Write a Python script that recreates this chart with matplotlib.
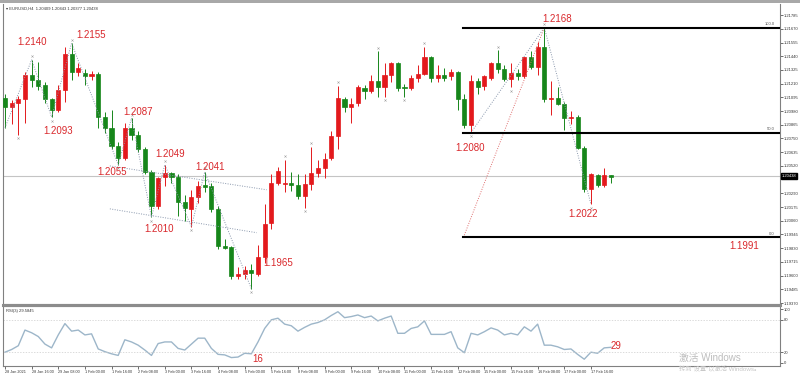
import matplotlib
matplotlib.use("Agg")
import matplotlib.pyplot as plt
import matplotlib.transforms as mtransforms
from matplotlib.lines import Line2D
from matplotlib.patches import Rectangle
import numpy as np

plt.rcParams['font.family'] = ['Liberation Sans', 'DejaVu Sans', 'Noto Sans CJK SC']

# EURUSD H4 candles
opens = [1.2109, 1.2101, 1.2105, 1.2108, 1.2128, 1.2124, 1.2120, 1.2108, 1.2099, 1.2116,
         1.2146, 1.2131, 1.2130, 1.2127, 1.2129, 1.2093, 1.2084, 1.2069, 1.2059, 1.2084,
         1.2078, 1.2066, 1.2047, 1.2018, 1.2043, 1.2046, 1.2043, 1.2022, 1.2016, 1.2026,
         1.2036, 1.2035, 1.2016, 1.1985, 1.1984, 1.1960, 1.1961, 1.1965, 1.1961, 1.1976,
         1.2004, 1.2038, 1.2037, 1.2038, 1.2036, 1.2027, 1.2037, 1.2046, 1.2050, 1.2059,
         1.2077, 1.2108, 1.2101, 1.2105, 1.2117, 1.2115, 1.2123, 1.2118, 1.2128, 1.2138,
         1.2118, 1.2117, 1.2126, 1.2129, 1.2143, 1.2126, 1.2128, 1.2127, 1.2131, 1.2108,
         1.2086, 1.2123, 1.2119, 1.2126, 1.2138, 1.2133, 1.2125, 1.2130, 1.2127, 1.2143,
         1.2135, 1.2152, 1.2108, 1.2109, 1.2104, 1.2092, 1.2093, 1.2067, 1.2033, 1.2044,
         1.2036, 1.2044]
highs = [1.2112, 1.2107, 1.2111, 1.2131, 1.2141, 1.2139, 1.2122, 1.2109, 1.2120, 1.2152,
         1.2155, 1.2138, 1.2133, 1.2132, 1.2131, 1.2097, 1.2099, 1.2072, 1.2088, 1.2092,
         1.2081, 1.2068, 1.2049, 1.2043, 1.2053, 1.2047, 1.2045, 1.2028, 1.2032, 1.2039,
         1.2047, 1.2038, 1.2018, 1.1991, 1.1985, 1.1967, 1.1968, 1.1970, 1.1986, 1.2020,
         1.2045, 1.2051, 1.2057, 1.2047, 1.2045, 1.2045, 1.2068, 1.2057, 1.2063, 1.2081,
         1.2119, 1.2110, 1.2109, 1.2120, 1.2120, 1.2128, 1.2148, 1.2138, 1.2139, 1.2139,
         1.2121, 1.2128, 1.2137, 1.2152, 1.2144, 1.2137, 1.2134, 1.2133, 1.2132, 1.2112,
         1.2128, 1.2126, 1.2128, 1.2139, 1.2149, 1.2137, 1.2138, 1.2133, 1.2143, 1.2148,
         1.2156, 1.2168, 1.2123, 1.2118, 1.2106, 1.2098, 1.2095, 1.2069, 1.2046, 1.2045,
         1.2050, 1.2044]
lows = [1.2084, 1.2087, 1.2078, 1.2088, 1.2118, 1.2116, 1.2105, 1.2093, 1.2097, 1.2106,
        1.2124, 1.2127, 1.2120, 1.2124, 1.2084, 1.2080, 1.2066, 1.2053, 1.2057, 1.2074,
        1.2064, 1.2045, 1.2009, 1.2016, 1.2035, 1.2038, 1.2010, 1.2006, 1.2001, 1.2021,
        1.2030, 1.2013, 1.1982, 1.1982, 1.1957, 1.1957, 1.1957, 1.1949, 1.1960, 1.1971,
        1.1999, 1.2036, 1.2030, 1.2031, 1.2024, 1.2017, 1.2032, 1.2043, 1.2042, 1.2057,
        1.2066, 1.2097, 1.2088, 1.2102, 1.2108, 1.2113, 1.2110, 1.2110, 1.2122, 1.2115,
        1.2110, 1.2116, 1.2122, 1.2128, 1.2122, 1.2122, 1.2123, 1.2124, 1.2099, 1.2084,
        1.2080, 1.2112, 1.2116, 1.2124, 1.2130, 1.2123, 1.2118, 1.2124, 1.2126, 1.2133,
        1.2128, 1.2106, 1.2095, 1.2103, 1.2082, 1.2087, 1.2066, 1.2030, 1.2020, 1.2034,
        1.2034, 1.2038]
closes = [1.2101, 1.2105, 1.2108, 1.2128, 1.2124, 1.2119, 1.2108, 1.2099, 1.2116, 1.2146,
          1.2131, 1.2134, 1.2127, 1.2129, 1.2093, 1.2084, 1.2069, 1.2059, 1.2084, 1.2078,
          1.2066, 1.2047, 1.2018, 1.2042, 1.2046, 1.2043, 1.2022, 1.2017, 1.2026, 1.2035,
          1.2034, 1.2016, 1.1985, 1.1983, 1.1960, 1.1961, 1.1965, 1.1962, 1.1976, 1.2003,
          1.2038, 1.2048, 1.2038, 1.2036, 1.2027, 1.2037, 1.2046, 1.2050, 1.2058, 1.2077,
          1.2109, 1.2101, 1.2104, 1.2118, 1.2115, 1.2123, 1.2118, 1.2128, 1.2138, 1.2117,
          1.2117, 1.2126, 1.2129, 1.2143, 1.2126, 1.2128, 1.2126, 1.2131, 1.2108, 1.2086,
          1.2123, 1.2118, 1.2127, 1.2138, 1.2133, 1.2125, 1.2130, 1.2127, 1.2143, 1.2135,
          1.2152, 1.2108, 1.2109, 1.2104, 1.2092, 1.2093, 1.2067, 1.2033, 1.2045, 1.2036,
          1.2044, 1.2043]

rsi = [20, 25, 32, 61, 56, 49, 35, 28, 52, 73, 59, 61, 52, 54, 26, 21, 17, 14, 43, 39,
       33, 24, 14, 36, 39, 39, 27, 24, 35, 46, 46, 27, 16, 15, 10, 11, 18, 17, 39, 64,
       80, 83, 72, 69, 59, 66, 72, 75, 80, 88, 95, 84, 86, 89, 84, 87, 78, 83, 87, 55,
       55, 64, 67, 78, 53, 53, 53, 58, 28, 19, 55, 52, 58, 65, 61, 52, 55, 52, 67, 59,
       72, 33, 33, 30, 25, 26, 16, 7, 20, 18, 28, 29]

time_labels = ["28 Jan 2021", "28 Jan 16:00", "29 Jan 08:00", "1 Feb 00:00", "1 Feb 16:00",
               "2 Feb 08:00", "3 Feb 00:00", "3 Feb 16:00", "4 Feb 08:00", "5 Feb 00:00",
               "5 Feb 16:00", "8 Feb 08:00", "9 Feb 00:00", "9 Feb 16:00", "10 Feb 08:00",
               "11 Feb 00:00", "11 Feb 16:00", "12 Feb 08:00", "15 Feb 00:00", "15 Feb 16:00",
               "16 Feb 08:00", "17 Feb 00:00", "17 Feb 16:00"]

price_ticks = [1.21785, 1.21670, 1.21555, 1.21440, 1.21325, 1.21210, 1.21095, 1.20980,
               1.20865, 1.20750, 1.20635, 1.20520, 1.20290, 1.20175, 1.20060, 1.19945,
               1.19830, 1.19715, 1.19600, 1.19485, 1.19370]
last_price = 1.20438

# swing points (candle index, 'H' or 'L')
zigzag_left = [(0, 'L'), (4, 'H'), (7, 'L'), (10, 'H'), (17, 'L'), (19, 'H'), (22, 'L'),
               (24, 'H'), (28, 'L'), (30, 'H'), (37, 'L')]
zigzag_right = [(70, 'L'), (81, 'H'), (88, 'L')]
fractal_highs = [4, 10, 19, 24, 30, 42, 46, 50, 56, 63, 74, 81]
fractal_lows = [2, 7, 17, 22, 28, 37, 45, 57, 60, 70, 76, 88]

# channel lines
upper_line = ([15.75, 39.3], [1.2052, 1.2032])
lower_line = ([15.75, 37.8], [1.2016, 1.1996])

# fibonacci
fib_start = 68.85
fib_low, fib_high = 1.1992, 1.2168
fib_levels = [0.0, 50.0, 100.0]

annotations = [("1.2140", 1.8, 1.2156), ("1.2155", 10.65, 1.2162), ("1.2093", 5.7, 1.2081),
               ("1.2087", 17.7, 1.2097), ("1.2055", 13.8, 1.2047), ("1.2049", 22.65, 1.2062),
               ("1.2041", 28.65, 1.2051), ("1.2010", 20.85, 1.1999), ("1.1965", 38.85, 1.1971),
               ("1.2080", 67.65, 1.2067), ("1.2168", 80.7, 1.2175), ("1.2022", 84.6, 1.2012),
               ("1.1991", 108.75, 1.1985)]
rsi_annotations = [("16", 37.2, 7), ("29", 90.9, 31)]

W, H = 800, 375
def box(l, t, r, b):
    return [l / W, 1 - b / H, (r - l) / W, (b - t) / H]

fig = plt.figure(figsize=(8, 3.75), dpi=100)
ax = fig.add_axes(box(3, 4, 780, 304))
ax2 = fig.add_axes(box(3, 306, 780, 366), sharex=ax)

o = np.array(opens); h = np.array(highs); l = np.array(lows); c = np.array(closes)
x = np.arange(len(o))
red, green = '#e3191c', '#16861a'
cols = np.where(c >= o, red, green)

ax.axhline(last_price, color='#c4c4c4', lw=0.8, zorder=1)
ax.vlines(x, l, h, colors=cols, lw=0.7, zorder=2)
ax.bar(x, c - o, bottom=o, width=0.62, color=cols, edgecolor=cols, linewidth=0.5, zorder=3)

dot = '#8a98ad'
def zz(points):
    xs = [p[0] for p in points]
    ys = [h[i] if k == 'H' else l[i] for i, k in points]
    ax.plot(xs, ys, color=dot, ls=(0, (1, 1.5)), lw=0.7, zorder=4)
zz(zigzag_left)
zz(zigzag_right)
ax.plot(*upper_line, color=dot, ls=(0, (1, 1.5)), lw=0.7, zorder=4)
ax.plot(*lower_line, color=dot, ls=(0, (1, 1.5)), lw=0.7, zorder=4)
ax.plot(fractal_highs, h[fractal_highs] + 0.0003, ls='none', marker='x', ms=1.5, mew=0.4, color='#a0a0a0')
ax.plot(fractal_lows, l[fractal_lows] - 0.0003, ls='none', marker='x', ms=1.5, mew=0.4, color='#a0a0a0')

# fibonacci
ax.plot([fib_start, zigzag_right[1][0]], [fib_low, fib_high], color='#e07070', ls=(0, (1, 1.5)), lw=0.7, zorder=4)
xmax = 116.4
for lev in fib_levels:
    p = fib_low + (fib_high - fib_low) * lev / 100
    ax.plot([fib_start, xmax], [p, p], color='black', lw=1.5, zorder=4)
    ax.text(115.6, p + 0.0001, f"{lev:.1f}", fontsize=3, color='#555555', ha='right', va='bottom')

for txt, xi, yp in annotations:
    ax.text(xi, yp, txt, color='#d9282c', fontsize=7, ha='left', va='center', zorder=6)

ax.set_xlim(-0.3, xmax)
ax.set_ylim(1.19362, 1.21878)
ax.yaxis.tick_right()
ax.set_yticks(price_ticks)
ax.set_yticklabels([f"{t:.5f}" for t in price_ticks])
ax.tick_params(axis='y', labelsize=3, length=2, width=0.5, pad=1, colors='#333333')
ax.tick_params(axis='x', labelbottom=False, length=0)
for s in ax.spines.values():
    s.set_color('#808080'); s.set_linewidth(0.8)
ax.spines['top'].set_visible(False)

trans = mtransforms.blended_transform_factory(ax.transAxes, ax.transData)
ax.text(1.002, last_price, f"{last_price:.5f}", transform=trans, fontsize=3, color='white',
        ha='left', va='center', bbox=dict(boxstyle='square,pad=0.25', fc='black', ec='black'), zorder=7)
ax.text(0.004, 0.99, "\u25be EURUSD,H4  1.20409 1.20443 1.20377 1.20438", transform=ax.transAxes,
        fontsize=3, color='#333333', ha='left', va='top')

# RSI panel
ax2.plot(x, rsi, color='#9db6c9', lw=1.0)
for lv in (20, 80):
    ax2.axhline(lv, color='#cccccc', lw=0.5, ls=(0, (2, 2)))
for txt, xi, yv in rsi_annotations:
    ax2.text(xi, yv, txt, color='#d9282c', fontsize=7, ha='left', va='center')
ax2.set_ylim(-5.6, 105.6)
ax2.yaxis.tick_right()
ax2.set_yticks([0, 20, 80, 100])
ax2.tick_params(axis='y', labelsize=3, length=2, width=0.5, pad=1, colors='#333333')
ax2.set_xticks(x[::4][:len(time_labels)])
ax2.set_xticklabels(time_labels)
ax2.tick_params(axis='x', labelsize=2.7, length=2, width=0.5, pad=1, colors='#333333')
for lab in ax2.get_xticklabels():
    lab.set_ha('left')
for s in ax2.spines.values():
    s.set_color('#808080'); s.set_linewidth(0.8)
ax2.text(0.004, 0.95, "RSI(3) 29.5845", transform=ax2.transAxes, fontsize=3,
         color='#333333', ha='left', va='top')

# frame pieces
fig.add_artist(Rectangle((0, 1 - 3 / H), 1, 3 / H, transform=fig.transFigure, fc='#a8a8a8', ec='none'))
fig.add_artist(Line2D([3 / W, 780 / W], [1 - 305 / H, 1 - 305 / H], transform=fig.transFigure,
                      color='#8c8c8c', lw=2.2))

fig.text(679 / W, 1 - 358 / H, "激活 Windows", fontsize=7, color='#bdbdbd', va='center')
fig.text(679 / W, 1 - 369 / H, "转到“设置”以激活 Windows。", fontsize=4.5, color='#c8c8c8', va='center')

fig.savefig("out.png", dpi=100)
